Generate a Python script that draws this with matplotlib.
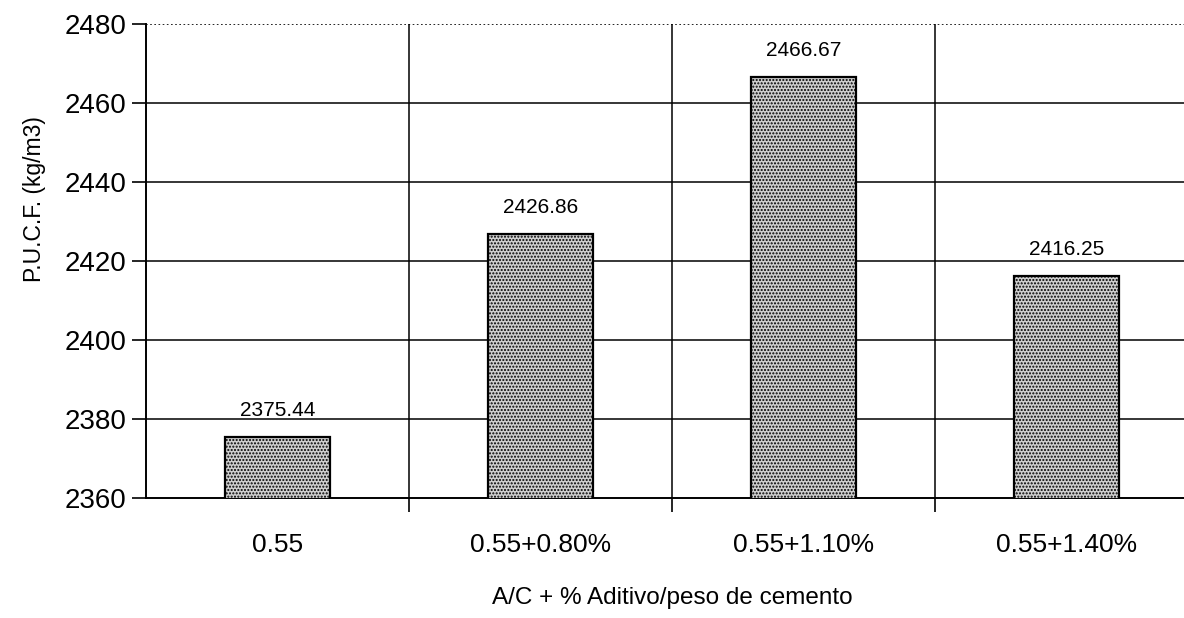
import matplotlib.pyplot as plt
import numpy as np

# Unit weight of fresh concrete for each water/cement + additive mix
mixes = ["0.55", "0.55+0.80%", "0.55+1.10%", "0.55+1.40%"]
pucf = [2375.44, 2426.86, 2466.67, 2416.25]
y_ticks = [2360, 2380, 2400, 2420, 2440, 2460, 2480]

plt.rcParams['font.family'] = ['Liberation Sans', 'DejaVu Sans']
plt.rcParams['hatch.color'] = '#3a3a3a'
plt.rcParams['hatch.linewidth'] = 1.0

fig = plt.figure(figsize=(11.84, 6.18), dpi=100)
ax = fig.add_axes([0.1233, 0.1942, 0.8885, 0.767])

x = np.arange(len(mixes))
bars = ax.bar(x, pucf, width=0.4, bottom=0, color='#cfcfcf', edgecolor='black',
              linewidth=1.6, hatch='.....', zorder=3)

for xi, v in zip(x, pucf):
    ax.annotate(f"{v:.2f}", (xi, v), xytext=(0, 12), textcoords='offset points',
                ha='center', va='bottom', fontsize=15)

ax.set_ylim(2360, 2480)
ax.set_xlim(-0.5, 3.5)
ax.set_yticks(y_ticks)
ax.set_yticklabels([str(t) for t in y_ticks], fontsize=20)

# category boundaries carry the vertical grid lines and x ticks
ax.set_xticks(x + 0.5, minor=False)
ax.set_xticklabels([])
ax.set_xticks(x, minor=True)
ax.set_xticklabels(mixes, minor=True, fontsize=19)
ax.tick_params(axis='x', which='minor', length=0, pad=25)
ax.tick_params(axis='x', which='major', length=10, width=1.2, direction='out')
ax.tick_params(axis='y', length=10, width=1.2, direction='out', pad=4)

for t in y_ticks[1:-1]:
    ax.axhline(t, color='black', linewidth=1.1, zorder=1)
for b in [0.5, 1.5, 2.5]:
    ax.axvline(b, color='black', linewidth=1.1, zorder=1)

for side in ['top', 'right']:
    ax.spines[side].set_visible(False)
ax.axhline(2480, color='black', linewidth=1.2, linestyle=(0, (1, 1.5)), zorder=1)
ax.spines['left'].set_linewidth(1.4)
ax.spines['bottom'].set_linewidth(1.4)

ax.set_ylabel("P.U.C.F. (kg/m3)", fontsize=16.5)
ax.yaxis.set_label_coords(-0.095, 0.63)
ax.set_xlabel("A/C + % Aditivo/peso de cemento", fontsize=17.5, labelpad=22)

fig.savefig("out.png", dpi=100)
